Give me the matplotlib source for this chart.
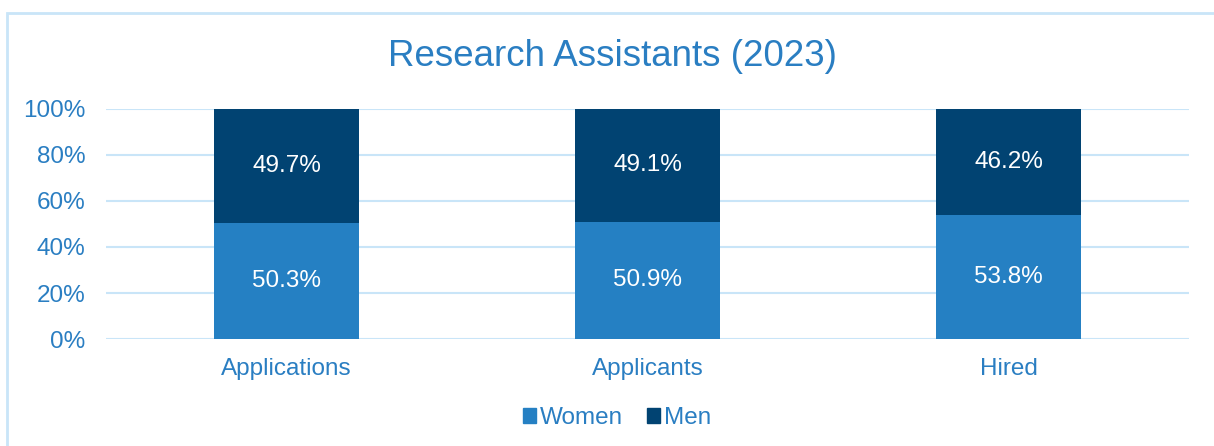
import matplotlib
matplotlib.use("Agg")
import matplotlib.pyplot as plt
from matplotlib.patches import Rectangle, Patch
import numpy as np

categories = ["Applications", "Applicants", "Hired"]
women = [50.3, 50.9, 53.8]
men = [49.7, 49.1, 46.2]
yticks = [0, 20, 40, 60, 80, 100]
title = "Research Assistants (2023)"

c_women = "#2580C3"
c_men = "#014372"
c_text = "#2A7EC2"
c_grid = "#C9E5F8"

plt.rcParams['font.family'] = ['Liberation Sans', 'DejaVu Sans']

fig = plt.figure(figsize=(12.14, 4.46), dpi=100)
ax = fig.add_axes([106/1214, 1-339/446, (1189-106)/1214, (339-109)/446])

x = np.arange(len(categories))
w = 0.4
ax.bar(x, women, width=w, color=c_women, zorder=3)
ax.bar(x, men, width=w, bottom=women, color=c_men, zorder=3)
for xi, wv, mv in zip(x, women, men):
    ax.text(xi, wv/2, f"{wv:.1f}%", ha="center", va="center", color="white", fontsize=17.5, zorder=4)
    ax.text(xi, wv + mv/2, f"{mv:.1f}%", ha="center", va="center", color="white", fontsize=17.5, zorder=4)

ax.set_xlim(-0.5, len(categories)-0.5)
ax.set_ylim(0, 100)
ax.set_yticks(yticks)
ax.set_yticklabels([f"{v}%" for v in yticks])
ax.set_xticks(x)
ax.set_xticklabels(categories)
ax.tick_params(axis="both", length=0, labelsize=17.5, labelcolor=c_text)
ax.tick_params(axis="y", pad=15)
ax.tick_params(axis="x", pad=14)
ax.yaxis.grid(True, color=c_grid, linewidth=1.5, zorder=0)
for s in ax.spines.values():
    s.set_visible(False)

fig.text(612/1214, 1-57/446, title, ha="center", va="center", fontsize=26.5, color=c_text)

handles = [Patch(color=c_women, label="Women"), Patch(color=c_men, label="Men")]
fig.legend(handles=handles, loc="center", bbox_to_anchor=(617/1214, 1-418/446), ncol=2,
           frameon=False, fontsize=17.5, labelcolor=c_text, handlelength=0.55, handleheight=0.55,
           handletextpad=0.15, columnspacing=1.0)

fig.patches.append(Rectangle((7/1214, -0.1), 1.2, 1-13/446+0.1, transform=fig.transFigure,
                             fill=False, edgecolor=c_grid, linewidth=2))

fig.savefig("out.png", dpi=100)
